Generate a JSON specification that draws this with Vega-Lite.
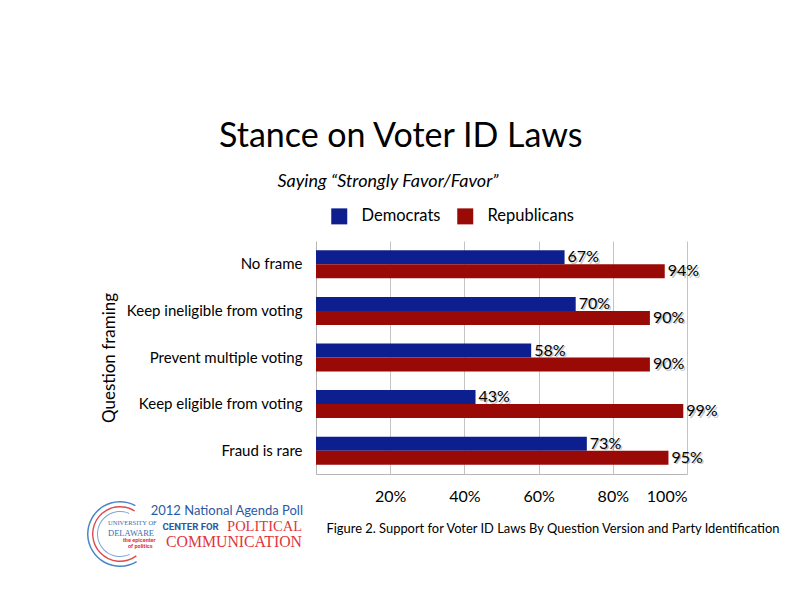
{
  "$schema": "https://vega.github.io/schema/vega-lite/v6.json",
  "background": "white",
  "padding": {"left": 87, "top": 120, "right": 5, "bottom": 5},
  "config": {"view": {"stroke": null}, "font": "Lato"},
  "title": {
    "text": "Stance on Voter ID Laws",
    "font": "Lato",
    "fontSize": 34,
    "fontWeight": "normal",
    "color": "#000",
    "anchor": "middle",
    "dx": -33,
    "offset": 19
  },
  "datasets": {
    "bars": [
      {"frame": "No frame", "party": "Democrats", "value": 0.67},
      {"frame": "No frame", "party": "Republicans", "value": 0.94},
      {"frame": "Keep ineligible from voting", "party": "Democrats", "value": 0.70},
      {"frame": "Keep ineligible from voting", "party": "Republicans", "value": 0.90},
      {"frame": "Prevent multiple voting", "party": "Democrats", "value": 0.58},
      {"frame": "Prevent multiple voting", "party": "Republicans", "value": 0.90},
      {"frame": "Keep eligible from voting", "party": "Democrats", "value": 0.43},
      {"frame": "Keep eligible from voting", "party": "Republicans", "value": 0.99},
      {"frame": "Fraud is rare", "party": "Democrats", "value": 0.73},
      {"frame": "Fraud is rare", "party": "Republicans", "value": 0.95}
    ],
    "logo": [
      {"part": "poll", "line": "poll", "text": "2012 National Agenda Poll"},
      {"part": "center", "line": "center", "text": "CENTER FOR"},
      {"part": "political", "line": "center", "text": "POLITICAL"},
      {"part": "comm", "line": "comm", "text": "COMMUNICATION"},
      {"part": "univ", "line": "none", "text": "UNIVERSITY OF"},
      {"part": "del", "line": "none", "text": "DELAWARE"},
      {"part": "epi", "line": "none", "text": "the epicenter"},
      {"part": "ofp", "line": "none", "text": "of politics"}
    ],
    "caption": [
      {"text": "Figure 2. Support for Voter ID Laws By Question Version and Party Identification"}
    ]
  },
  "bounds": "flush",
  "spacing": 20,
  "vconcat": [
    {
      "width": 371,
      "height": 233,
      "title": {
        "text": "Saying “Strongly Favor/Favor”",
        "font": "Lato",
        "fontSize": 18,
        "fontStyle": "italic",
        "fontWeight": "normal",
        "color": "#000",
        "anchor": "middle",
        "frame": "group",
        "dx": -113.5,
        "offset": 50
      },
      "data": {"name": "bars"},
      "encoding": {
        "y": {
          "field": "frame",
          "type": "nominal",
          "sort": ["No frame", "Keep ineligible from voting", "Prevent multiple voting", "Keep eligible from voting", "Fraud is rare"],
          "scale": {"paddingInner": 0.4, "paddingOuter": 0.2},
          "axis": {
            "title": "Question framing",
            "titleFont": "Lato",
            "titleFontSize": 17,
            "titleFontWeight": "normal",
            "titleColor": "#000",
            "titlePadding": 8,
            "labelFont": "Lato",
            "labelFontSize": 15,
            "labelColor": "#000",
            "labelPadding": 14,
            "labelLimit": 300,
            "ticks": false,
            "domainColor": "#b5b5b5"
          }
        },
        "yOffset": {"field": "party", "type": "nominal", "sort": ["Democrats", "Republicans"]},
        "x": {
          "field": "value",
          "type": "quantitative",
          "scale": {"domain": [0, 1]},
          "axis": {
            "values": [0.2, 0.4, 0.6, 0.8, 1],
            "format": ".0%",
            "grid": true,
            "gridColor": "#c4c4c4",
            "ticks": false,
            "domainColor": "#b5b5b5",
            "labelFont": "Lato",
            "labelFontSize": 16,
            "labelColor": "#000",
            "labelPadding": 14,
            "title": null
          }
        }
      },
      "layer": [
        {
          "mark": {"type": "bar"},
          "encoding": {
            "color": {
              "field": "party",
              "type": "nominal",
              "scale": {"domain": ["Democrats", "Republicans"], "range": ["#0d1e8e", "#990a07"]},
              "legend": {
                "orient": "none",
                "legendX": 15,
                "legendY": -33,
                "direction": "horizontal",
                "title": null,
                "symbolType": "square",
                "symbolSize": 256,
                "symbolStrokeWidth": 0,
                "symbolOpacity": 1,
                "labelFont": "Lato",
                "labelFontSize": 16.5,
                "labelColor": "#000",
                "labelOffset": 14,
                "columnPadding": 16,
                "padding": 0
              }
            }
          }
        },
        {
          "mark": {"type": "text", "align": "left", "baseline": "middle", "dx": 4.5, "dy": 1.5, "font": "Lato", "fontSize": 16, "color": "#555", "opacity": 0.35},
          "encoding": {"text": {"field": "value", "type": "quantitative", "format": ".0%"}}
        },
        {
          "mark": {"type": "text", "align": "left", "baseline": "middle", "dx": 3, "font": "Lato", "fontSize": 16, "color": "#000"},
          "encoding": {"text": {"field": "value", "type": "quantitative", "format": ".0%"}}
        }
      ]
    },
    {
      "bounds": "flush",
      "spacing": 9,
      "hconcat": [
        {
          "width": 1,
          "height": 70,
          "data": {"name": "logo"},
          "layer": [
            {
              "transform": [{"filter": "datum.part === 'poll'"}],
              "mark": {"type": "arc", "radius": 33, "radius2": 31.5, "theta": 2.6, "theta2": 6.78, "color": "#4a86c8", "xOffset": -196.5, "yOffset": 5},
              "encoding": {}
            },
            {
              "transform": [{"filter": "datum.part === 'poll'"}],
              "mark": {"type": "arc", "radius": 28, "radius2": 26.6, "theta": 2.5, "theta2": 6.85, "color": "#e04a4a", "xOffset": -196.5, "yOffset": 5},
              "encoding": {}
            },
            {
              "transform": [{"filter": "datum.part === 'poll'"}],
              "mark": {"type": "arc", "radius": 23, "radius2": 22, "theta": 2.7, "theta2": 6.7, "color": "#7aa6d8", "xOffset": -196.5, "yOffset": 5},
              "encoding": {}
            },
            {
              "transform": [{"filter": "datum.part === 'poll'"}],
              "mark": {"type": "text", "align": "right", "baseline": "middle", "dx": -13.5, "font": "Lato", "fontSize": 13, "color": "#2b59a5"},
              "encoding": {
                "y": {"field": "line", "type": "ordinal", "scale": {"domain": ["poll", "center", "comm"], "range": [17, 48], "padding": 0}, "axis": null},
                "text": {"field": "text"}
              }
            },
            {
              "transform": [{"filter": "datum.part === 'center'"}],
              "mark": {"type": "text", "align": "left", "baseline": "middle", "dx": -154, "font": "Roboto", "fontWeight": "bold", "fontSize": 9.6, "color": "#2b59a5"},
              "encoding": {
                "y": {"field": "line", "type": "ordinal", "scale": {"domain": ["poll", "center", "comm"], "range": [17, 48], "padding": 0}, "axis": null},
                "text": {"field": "text"}
              }
            },
            {
              "transform": [{"filter": "datum.part === 'political'"}],
              "mark": {"type": "text", "align": "right", "baseline": "middle", "dx": -14.5, "font": "Liberation Serif", "fontSize": 14.5, "color": "#e0363c"},
              "encoding": {
                "y": {"field": "line", "type": "ordinal", "scale": {"domain": ["poll", "center", "comm"], "range": [17, 48], "padding": 0}, "axis": null},
                "text": {"field": "text"}
              }
            },
            {
              "transform": [{"filter": "datum.part === 'comm'"}],
              "mark": {"type": "text", "align": "right", "baseline": "middle", "dx": -14.5, "font": "Liberation Serif", "fontSize": 15.8, "color": "#e0363c"},
              "encoding": {
                "y": {"field": "line", "type": "ordinal", "scale": {"domain": ["poll", "center", "comm"], "range": [17, 48], "padding": 0}, "axis": null},
                "text": {"field": "text"}
              }
            },
            {
              "transform": [{"filter": "datum.part === 'univ'"}],
              "mark": {"type": "text", "align": "left", "baseline": "middle", "dx": -208.5, "dy": -6, "font": "Liberation Serif", "fontSize": 6.5, "color": "#3a6db5"},
              "encoding": {"text": {"field": "text"}}
            },
            {
              "transform": [{"filter": "datum.part === 'del'"}],
              "mark": {"type": "text", "align": "left", "baseline": "middle", "dx": -208.5, "dy": 4, "font": "Liberation Serif", "fontSize": 8.5, "color": "#3a6db5"},
              "encoding": {"text": {"field": "text"}}
            },
            {
              "transform": [{"filter": "datum.part === 'epi'"}],
              "mark": {"type": "text", "align": "left", "baseline": "middle", "dx": -193.5, "dy": 11, "font": "Roboto", "fontWeight": "bold", "fontSize": 5.5, "color": "#e0363c"},
              "encoding": {"text": {"field": "text"}}
            },
            {
              "transform": [{"filter": "datum.part === 'ofp'"}],
              "mark": {"type": "text", "align": "left", "baseline": "middle", "dx": -188.5, "dy": 16.5, "font": "Roboto", "fontWeight": "bold", "fontSize": 5.5, "color": "#e0363c"},
              "encoding": {"text": {"field": "text"}}
            }
          ]
        },
        {
          "width": 454,
          "height": 70,
          "data": {"name": "caption"},
          "mark": {"type": "text", "align": "center", "baseline": "middle", "font": "Lato", "fontSize": 12.9, "color": "#000"},
          "encoding": {"text": {"field": "text"}}
        }
      ]
    }
  ]
}
